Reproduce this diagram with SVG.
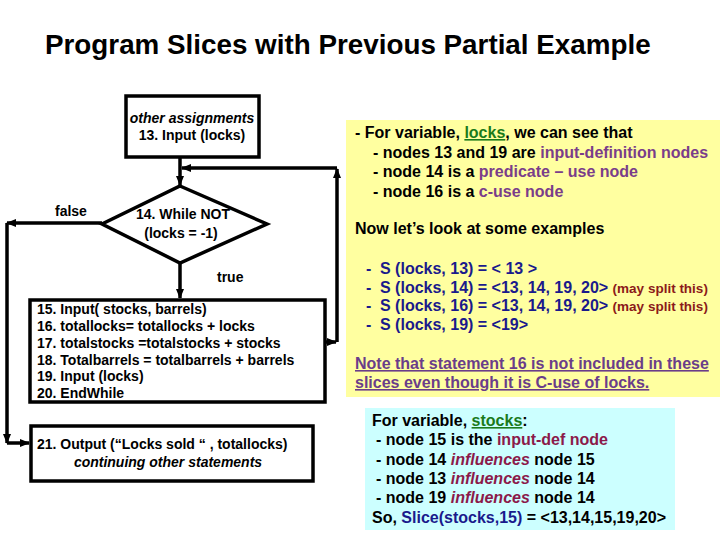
<svg xmlns="http://www.w3.org/2000/svg" width="720" height="540" viewBox="0 0 720 540">
<style>
text{font-family:"Liberation Sans",Arial,sans-serif;font-weight:bold;fill:#000}
.fc{font-size:14px}
.it{font-style:italic}
.rp{font-size:16px}
.box{fill:#fff;stroke:#000;stroke-width:3.5}
.ln{fill:none;stroke:#000;stroke-width:3.5}
.pur{fill:#7a3d8a}
.grn{fill:#1a7a1a;text-decoration:underline}
.nav{fill:#1a1a8c}
.red{fill:#8b1a1a;font-size:13.5px}
.note{fill:#6a3d8a;text-decoration:underline}
.mar{fill:#8b1a4a}
</style>
<defs>
<marker id="ah" markerUnits="userSpaceOnUse" markerWidth="10" markerHeight="10" viewBox="0 0 10 10" refX="9" refY="5" orient="auto">
<path d="M0,1 L10,5 L0,9 z" fill="#000"/>
</marker>
</defs>
<rect x="0" y="0" width="720" height="540" fill="#fff"/>
<text x="45" y="54" font-size="27.8">Program Slices with Previous Partial Example</text>

<g id="connectors">
<path class="ln" d="M180,157 V185" marker-end="url(#ah)"/>
<path class="ln" d="M180,263 V298" marker-end="url(#ah)"/>
<path class="ln" d="M325,342 H336" marker-end="url(#ah)"/>
<path class="ln" d="M337,342 V169" marker-end="url(#ah)"/>
<path class="ln" d="M337,168 H182" marker-end="url(#ah)"/>
<path class="ln" d="M102,223 H7" marker-end="url(#ah)"/>
<path class="ln" d="M7,223 V443" marker-end="url(#ah)"/>
<path class="ln" d="M7,443 H29" marker-end="url(#ah)"/>
<text class="fc" x="55" y="216">false</text>
<text class="fc" x="217" y="282">true</text>
</g>

<g id="n13">
<rect class="box" x="126" y="96" width="133" height="61"/>
<text class="fc it" x="192" y="123" text-anchor="middle">other assignments</text>
<text class="fc" x="192" y="140" text-anchor="middle">13. Input (locks)</text>
</g>

<g id="n14">
<polygon class="box" points="180,186 267,224 180,263 102,224"/>
<text class="fc" x="183" y="219" text-anchor="middle">14. While NOT</text>
<text class="fc" x="181" y="238" text-anchor="middle">(locks = -1)</text>
</g>

<g id="n15">
<rect class="box" x="30" y="300" width="295" height="102"/>
<text class="fc" x="37" y="314">15. Input( stocks, barrels)</text>
<text class="fc" x="37" y="331">16. totallocks= totallocks + locks</text>
<text class="fc" x="37" y="348">17. totalstocks =totalstocks + stocks</text>
<text class="fc" x="37" y="365">18. Totalbarrels = totalbarrels + barrels</text>
<text class="fc" x="37" y="381">19. Input (locks)</text>
<text class="fc" x="37" y="398">20. EndWhile</text>
</g>

<g id="n21">
<rect class="box" x="31" y="426" width="282" height="55"/>
<text class="fc" x="37" y="449">21. Output (“Locks sold “ , totallocks)</text>
<text class="fc it" x="168" y="467" text-anchor="middle">continuing other  statements</text>
</g>

<g id="notes-locks">
<rect x="346" y="120" width="374" height="277" fill="#ffffa0"/>
<text class="rp" x="355" y="138">- For variable, <tspan class="grn">locks</tspan>, we can see that</text>
<text class="rp" x="373" y="158">- nodes 13 and 19 are <tspan class="pur">input-definition nodes</tspan></text>
<text class="rp" x="373" y="177">- node 14 is a <tspan class="pur">predicate – use node</tspan></text>
<text class="rp" x="373" y="197">- node 16 is a <tspan class="pur">c-use node</tspan></text>
<text class="rp" x="355" y="234">Now let’s look at some examples</text>
<text class="rp nav" x="366" y="274">-<tspan x="380">S (locks, 13) = &lt; 13 &gt;</tspan></text>
<text class="rp nav" x="366" y="293">-<tspan x="380">S (locks, 14) = &lt;13, 14, 19, 20&gt; </tspan><tspan class="red">(may split this)</tspan></text>
<text class="rp nav" x="366" y="311">-<tspan x="380">S (locks, 16) = &lt;13, 14, 19, 20&gt; </tspan><tspan class="red">(may split this)</tspan></text>
<text class="rp nav" x="366" y="330">-<tspan x="380">S (locks, 19) = &lt;19&gt;</tspan></text>
<text class="rp note" x="355" y="369">Note that statement 16 is not included in these</text>
<text class="rp note" x="355" y="388">slices even though it is C-use of locks.</text>
</g>

<g id="notes-stocks">
<rect x="365" y="408" width="310" height="122" fill="#ccffff"/>
<text class="rp" x="372" y="426">For variable, <tspan class="grn">stocks</tspan>:</text>
<text class="rp" x="376" y="445">- node 15 is the <tspan class="mar">input-def node</tspan></text>
<text class="rp" x="376" y="465">- node 14 <tspan class="mar it">influences</tspan> node 15</text>
<text class="rp" x="376" y="484">- node 13 <tspan class="mar it">influences</tspan> node 14</text>
<text class="rp" x="376" y="503">- node 19 <tspan class="mar it">influences</tspan> node 14</text>
<text class="rp" x="372" y="523">So, <tspan class="nav">Slice(stocks,15)</tspan> = &lt;13,14,15,19,20&gt;</text>
</g>
</svg>
